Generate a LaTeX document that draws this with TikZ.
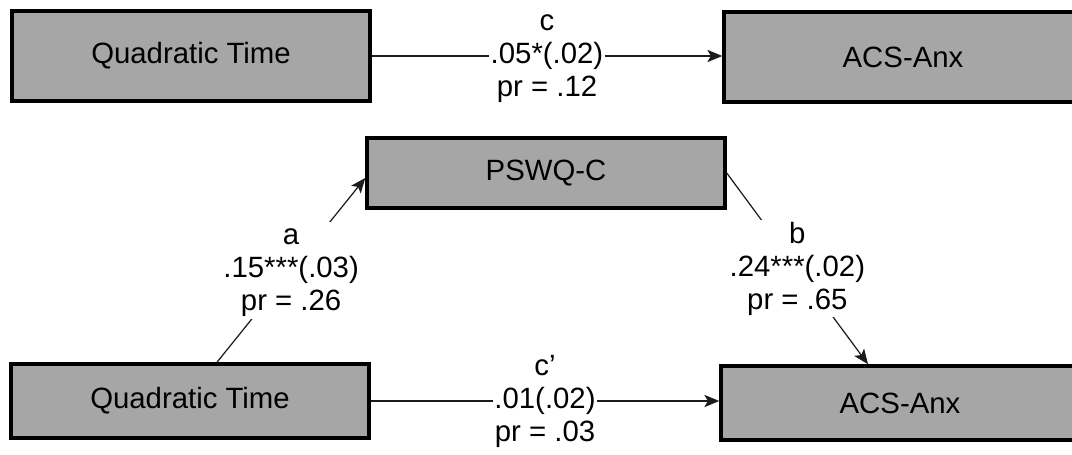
\documentclass[tikz,border=0pt]{standalone}
\usepackage{fontspec}
\setmainfont{Liberation Sans}
\usepackage{tikz}
\usetikzlibrary{arrows.meta,positioning,calc}
\definecolor{mdgray}{HTML}{A6A6A6}
\definecolor{mdink}{HTML}{1C1C1C}
\newcommand{\pathtext}[3]{#1\vphantom{(}\\#2\\#3\vphantom{(}}

\begin{document}
\begin{tikzpicture}[x=0.02cm,y=-0.02cm,
  varbox/.style={draw=black,line width=2pt,fill=mdgray,minimum width=7.16cm,
    font=\fontsize{16.7}{20}\selectfont},
  pathlbl/.style={fill=white,inner xsep=1pt,inner ysep=1pt,align=center,
    font=\fontsize{16.7}{18.8}\selectfont},
  patharr/.style={draw=mdink,line width=0.7pt,
    -{Stealth[length=8.5pt,width=7pt,inset=2pt]}}]
\useasboundingbox (0,0) rectangle (1072,455);
% total effect
\node[varbox,minimum height=1.8cm] (qtop) at (191,56) {Quadratic Time};
\node[varbox,minimum height=1.8cm] (atop) at (903,57) {ACS-Anx};
\draw[patharr] (qtop.east) -- node[pathlbl] (clab) {\pathtext{c}{.05*(.02)}{pr = .12}} (qtop.east -| atop.west);
% mediated model
\node[varbox,minimum height=1.4cm] (pswq) at (546,173) {PSWQ-C};
\node[varbox,minimum height=1.48cm] (qbot) at (190,401) {Quadratic Time};
\node[varbox,minimum height=1.48cm] (abot) at (900,403) {ACS-Anx};
\draw[patharr] ($(qbot.north)+(27,0)$) -- node[pathlbl] (alab) {\pathtext{a}{.15***(.03)}{pr = .26}} ($(pswq.west)+(0,5)$);
\draw[patharr] (pswq.east) -- node[pathlbl] (blab) {\pathtext{b}{.24***(.02)}{pr = .65}} ($(abot.north)+(-32,0)$);
\draw[patharr] (qbot.east) -- node[pathlbl] (cplab) {\pathtext{c’}{.01(.02)}{pr = .03}} (qbot.east -| abot.west);
\end{tikzpicture}
\end{document}
